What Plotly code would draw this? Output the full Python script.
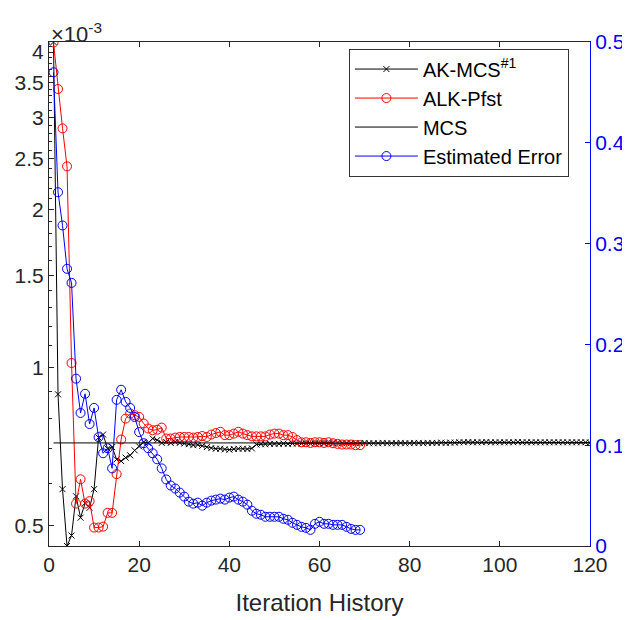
import math
import plotly.graph_objects as go

# iteration numbers
iter_ak = list(range(1, 121))
iter_alk = list(range(1, 70))

# failure probability, in units of 1e-3
pf_ak_mcs = [
    4.18, 0.889, 0.586, 0.4565, 0.478, 0.568, 0.517, 0.551, 0.540, 0.586,
    0.735, 0.745, 0.700, 0.705, 0.668, 0.663, 0.673, 0.680, 0.695, 0.707,
    0.721, 0.718, 0.732, 0.727, 0.718, 0.721, 0.718, 0.721, 0.718, 0.716,
    0.714, 0.711, 0.712, 0.709, 0.705, 0.702, 0.700, 0.700, 0.698, 0.697,
    0.699, 0.700, 0.700, 0.699, 0.701, 0.713, 0.714, 0.714, 0.715, 0.715,
    0.715, 0.716, 0.715, 0.716, 0.716, 0.716, 0.717, 0.716, 0.717, 0.717,
    0.717, 0.717, 0.717, 0.718, 0.717, 0.717, 0.718, 0.717, 0.717, 0.718,
    0.717, 0.717, 0.717, 0.718, 0.717, 0.717, 0.717, 0.718, 0.717, 0.717,
    0.718, 0.718, 0.717, 0.718, 0.718, 0.718, 0.719, 0.718, 0.719, 0.719,
    0.720, 0.720, 0.721, 0.720, 0.720, 0.720, 0.721, 0.720, 0.720, 0.720,
    0.720, 0.720, 0.720, 0.721, 0.720, 0.720, 0.720, 0.720, 0.720, 0.720,
    0.720, 0.720, 0.720, 0.720, 0.720, 0.720, 0.720, 0.720, 0.720, 0.719,
]

pf_alk = [
    4.17, 3.40, 2.86, 2.42, 1.02, 0.550, 0.612, 0.550, 0.556, 0.495,
    0.495, 0.497, 0.528, 0.528, 0.626, 0.729, 0.799, 0.817, 0.811, 0.805,
    0.782, 0.765, 0.759, 0.761, 0.768, 0.732, 0.732, 0.735, 0.737, 0.737,
    0.737, 0.735, 0.737, 0.740, 0.737, 0.745, 0.750, 0.754, 0.743, 0.743,
    0.748, 0.754, 0.748, 0.743, 0.739, 0.739, 0.739, 0.739, 0.745, 0.748,
    0.748, 0.743, 0.743, 0.737, 0.727, 0.720, 0.720, 0.718, 0.720, 0.720,
    0.718, 0.720, 0.717, 0.715, 0.713, 0.713, 0.713, 0.711, 0.711,
]

pf_mcs = 0.718
mcs_span = [1, 120]

est_error = [
    0.470, 0.351, 0.318, 0.275, 0.261, 0.166, 0.132, 0.151, 0.121, 0.137,
    0.108, 0.092, 0.097, 0.077, 0.145, 0.155, 0.143, 0.137, 0.128, 0.113,
    0.102, 0.097, 0.092, 0.086, 0.077, 0.066, 0.060, 0.057, 0.053, 0.049,
    0.044, 0.042, 0.043, 0.040, 0.043, 0.045, 0.046, 0.047, 0.046, 0.048,
    0.049, 0.046, 0.044, 0.041, 0.035, 0.032, 0.031, 0.029, 0.029, 0.029,
    0.029, 0.027, 0.026, 0.023, 0.021, 0.019, 0.018, 0.016, 0.022, 0.024,
    0.022, 0.022, 0.021, 0.021, 0.021, 0.019, 0.017, 0.016, 0.016,
]

left_major = [0.5, 1, 1.5, 2, 2.5, 3, 3.5, 4]
left_minor = [round(0.5 + 0.1 * i, 1) for i in range(37)]

DARK = "#262626"
FONT = "Liberation Sans, Arial, Helvetica, sans-serif"

fig = go.Figure()

fig.add_trace(go.Scatter(
    x=iter_ak, y=[v * 1e-3 for v in pf_ak_mcs], name="AK-MCS<sup>#1</sup>",
    mode="lines+markers", line=dict(color="black", width=1),
    marker=dict(symbol="x-thin-open", size=6, color="black", line=dict(color="black", width=1)),
))
fig.add_trace(go.Scatter(
    x=iter_alk, y=[v * 1e-3 for v in pf_alk], name="ALK-Pfst",
    mode="lines+markers", line=dict(color="red", width=1),
    marker=dict(symbol="circle-open", size=9, color="red", line=dict(color="red", width=1)),
))
fig.add_trace(go.Scatter(
    x=mcs_span, y=[pf_mcs * 1e-3] * 2, name="MCS",
    mode="lines", line=dict(color="black", width=1),
))
fig.add_trace(go.Scatter(
    x=iter_alk, y=est_error, name="Estimated Error", yaxis="y2",
    mode="lines+markers", line=dict(color="blue", width=1),
    marker=dict(symbol="circle-open", size=9, color="blue", line=dict(color="blue", width=1)),
))

ymin = min(pf_ak_mcs + pf_alk) * 1e-3
ymax = max(pf_ak_mcs + pf_alk) * 1e-3

# page body adds an 8px offset, so the figure is a bit smaller than the window
fig.update_layout(
    width=622, height=612,
    margin=dict(l=41, r=40, t=34, b=74),
    plot_bgcolor="white", paper_bgcolor="white",
    font=dict(family=FONT, size=21, color=DARK),
    xaxis=dict(
        range=[0, 120], tickvals=[0, 20, 40, 60, 80, 100, 120],
        ticks="inside", ticklen=5, tickcolor=DARK, showline=True, linecolor=DARK,
        linewidth=1, mirror="ticks", showgrid=False, zeroline=False, automargin=False,
        title=dict(text="Iteration History", font=dict(size=24, color=DARK), standoff=18),
        tickfont=dict(size=21, color=DARK),
    ),
    yaxis=dict(
        type="log", range=[math.log10(ymin), math.log10(ymax)],
        tickvals=[v * 1e-3 for v in left_major],
        ticktext=[f"{v:g}" for v in left_major],
        ticks="inside", ticklen=5, tickcolor=DARK, showline=True, linecolor=DARK,
        linewidth=1, showgrid=False, zeroline=False, automargin=False,
        tickfont=dict(size=21, color=DARK),
        minor=dict(tickmode="array", tickvals=[v * 1e-3 for v in left_minor],
                   ticks="inside", ticklen=3, tickcolor=DARK, showgrid=False),
    ),
    yaxis2=dict(
        overlaying="y", side="right", range=[0, 0.5], dtick=0.1,
        ticks="inside", ticklen=5, tickcolor="blue", showline=True, linecolor="blue",
        linewidth=1, showgrid=False, zeroline=False, automargin=False,
        tickfont=dict(size=21, color="blue"),
    ),
    legend=dict(
        x=0.961, y=0.987, xanchor="right", yanchor="top",
        bgcolor="white", bordercolor="#333333", borderwidth=1,
        font=dict(size=20, color="black", family=FONT),
        tracegroupgap=0, itemwidth=63,
    ),
    annotations=[dict(
        text="×10<sup>-3</sup>", xref="paper", yref="paper", x=0, y=1,
        xanchor="left", yanchor="bottom", showarrow=False,
        font=dict(size=22, color=DARK), yshift=-7,
    )],
)

fig.write_html("out.html")
